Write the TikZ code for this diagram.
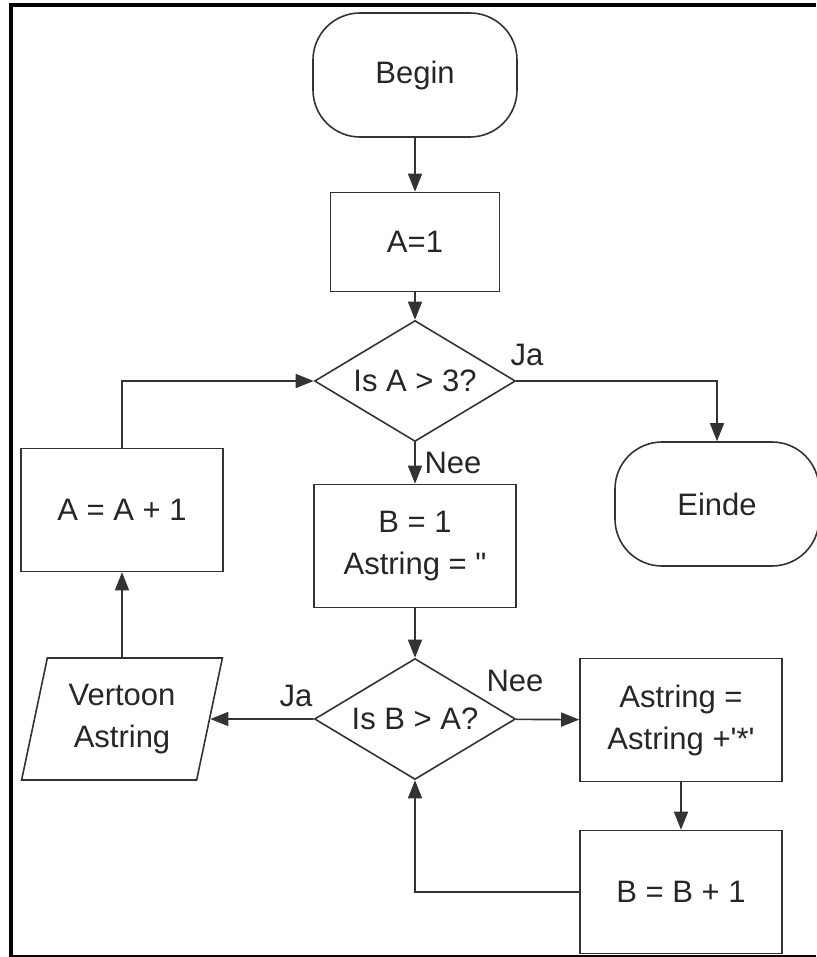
\documentclass[tikz,border=0pt]{standalone}
\usepackage{fontspec}
\setmainfont{Liberation Sans}
\usetikzlibrary{shapes.geometric,arrows.meta}
\tikzset{
  every node/.style={font=\fontsize{15.5}{21}\selectfont, text=black!85},
  shapeline/.style={draw=black!80, line width=0.8pt, align=center},
  terminal/.style={shapeline, rounded corners=23.5pt, minimum width=102pt, minimum height=62pt},
  process/.style={shapeline, minimum width=101pt, minimum height=61.5pt},
  decision/.style={shapeline, diamond, aspect=1.66, inner sep=0pt, minimum width=100.5pt, minimum height=60.5pt},
  io/.style={shapeline, trapezium, trapezium left angle=76, trapezium right angle=104,
    trapezium stretches=true, minimum width=101pt, minimum height=61pt},
  flow/.style={draw=black!80, line width=0.8pt, -{Triangle[length=9pt,width=7pt]}},
}
\begin{document}
\begin{tikzpicture}[x=0.5pt,y=-0.5pt]
\useasboundingbox (0,0) rectangle (816,957);
% frame
\draw[line width=2pt] (816,5) -- (11,5) -- (11,957);
\draw[line width=2pt] (11,956.5) -- (816,956.5);

\node (begin) at (415,75) [terminal] {Begin};
\node (a1) at (415,242) [process, minimum width=84.5pt, minimum height=49.5pt] {A=1};
\node (d1) at (415,381) [decision] {Is A > 3?};
\node (einde) at (717,504) [terminal] {Einde};
\node (ainc) at (122,510) [process] {A = A + 1};
\node (b1) at (415,546) [process] {B = 1\\Astring = \textquotedbl};
\node (d2) at (415,719) [decision] {Is B > A?};
\node (vertoon) at (122,719) [io] {Vertoon\\Astring};
\node (astr) at (681,720) [process] {Astring =\\Astring +\textquotesingle*\textquotesingle};
\node (binc) at (681,892) [process] {B = B + 1};

\node (ja1) at (527,355) {Ja};
\node (nee1) at (453,463) {Nee};
\node (ja2) at (296,696) {Ja};
\node (nee2) at (515,681) {Nee};

\draw[flow] (begin) -- (a1);
\draw[flow] (a1) -- (d1);
\draw[flow] (d1) -| (einde);
\draw[flow] (d1) -- (b1);
\draw[flow] (b1) -- (d2);
\draw[flow] (d2) -- (vertoon);
\draw[flow] (d2) -- (astr);
\draw[flow] (astr) -- (binc);
\draw[flow] (binc) -| (d2);
\draw[flow] (vertoon) -- (ainc);
\draw[flow] (ainc) |- (d1);
\end{tikzpicture}
\end{document}
